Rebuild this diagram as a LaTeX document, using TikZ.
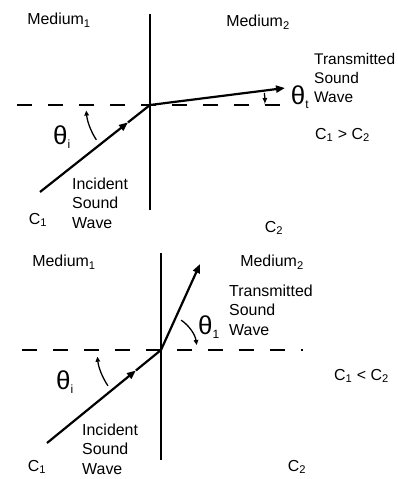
\documentclass[tikz,border=0pt]{standalone}
\usepackage{fontspec}
\setmainfont{Liberation Sans}
\usepackage{tikz}
\usetikzlibrary{arrows.meta, calc}

\begin{document}
\begin{tikzpicture}[x=1bp, y=-1bp,
    >={Triangle[length=9bp, width=7bp]},
    lbl/.style={font=\fontsize{16}{19.5}\selectfont, inner sep=0pt},
    txt/.style={lbl, align=left, anchor=west},
    ang/.style={font=\fontsize{26}{26}\selectfont, inner sep=0pt},
    ray/.style={line width=2.2bp},
    wall/.style={line width=1.8bp},
    dashline/.style={line width=1.4bp, dash pattern=on 15bp off 16bp},
    arcline/.style={line width=1.3bp, >={Triangle[length=5bp, width=4.5bp]}}]
    \useasboundingbox (0, 0) rectangle (397, 479);

    % upper case: C1 > C2
    \coordinate (o1) at (150, 105);
    \coordinate (s1) at (40, 192);
    \coordinate (t1) at (285, 88);
    \coordinate (m1) at ($(s1)!0.8!(o1)$);
    \coordinate (w1a) at (150, 14);
    \coordinate (w1b) at (150, 210);
    \coordinate (d1a) at (17, 105);
    \coordinate (d1b) at (280, 105);

    \node[lbl] at (59, 20) (med1a) {Medium\textsubscript{1}};
    \node[lbl] at (258, 22) (med2a) {Medium\textsubscript{2}};
    \node[ang] at (62, 137) (thia) {θ\textsubscript{\fontsize{12}{12}\selectfont i}};
    \node[ang] at (300, 97) (thta) {θ\textsubscript{\fontsize{12}{12}\selectfont t}};
    \node[txt] at (72, 203) (inca) {Incident\\Sound\\Wave};
    \node[txt, font=\fontsize{15.5}{19.5}\selectfont] at (314, 78) (trna) {Transmitted\\Sound\\Wave};
    \node[lbl] at (38, 220) (c1a) {C\textsubscript{1}};
    \node[lbl] at (274, 228) (c2a) {C\textsubscript{2}};
    \node[lbl, anchor=west] at (315, 135) (rela) {C\textsubscript{1} > C\textsubscript{2}};

    \draw[wall] (w1a) -- (w1b);
    \draw[dashline] (d1a) -- (d1b);
    \draw[ray, ->] (s1) -- (m1);
    \draw[ray] (m1) -- (o1);
    \draw[ray, ->] (o1) -- (t1);
    \draw[arcline, <-] ($(o1)+(175:64)$) arc[start angle=175, end angle=147, radius=64];
    \draw[arcline, ->] ($(o1)+(-6:115)$) arc[start angle=-6, end angle=-1, radius=115];

    % lower case: C1 < C2
    \coordinate (o2) at (161, 350);
    \coordinate (s2) at (47, 443);
    \coordinate (t2) at (200, 264);
    \coordinate (m2) at ($(s2)!0.78!(o2)$);
    \coordinate (w2a) at (161, 253);
    \coordinate (w2b) at (161, 460);
    \coordinate (d2a) at (22, 350);
    \coordinate (d2b) at (303, 350);

    \node[lbl] at (64, 262) (med1b) {Medium\textsubscript{1}};
    \node[lbl] at (272, 262) (med2b) {Medium\textsubscript{2}};
    \node[ang] at (65, 382) (thib) {θ\textsubscript{\fontsize{12}{12}\selectfont i}};
    \node[ang] at (209, 327) (thtb) {θ\textsubscript{\fontsize{12}{12}\selectfont 1}};
    \node[txt] at (82, 449) (incb) {Incident\\Sound\\Wave};
    \node[txt] at (229, 310) (trnb) {Transmitted\\Sound\\Wave};
    \node[lbl] at (37, 467) (c1b) {C\textsubscript{1}};
    \node[lbl] at (297, 467) (c2b) {C\textsubscript{2}};
    \node[lbl, anchor=west] at (334, 376) (relb) {C\textsubscript{1} < C\textsubscript{2}};

    \draw[wall] (w2a) -- (w2b);
    \draw[dashline] (d2a) -- (d2b);
    \draw[ray, ->] (s2) -- (m2);
    \draw[ray] (m2) -- (o2);
    \draw[ray, ->] (o2) -- (t2);
    \draw[arcline, <-] ($(o2)+(174:64)$) arc[start angle=174, end angle=146, radius=64];
    \draw[arcline, ->] ($(o2)+(-56:36)$) arc[start angle=-56, end angle=-8, radius=36];
\end{tikzpicture}
\end{document}
